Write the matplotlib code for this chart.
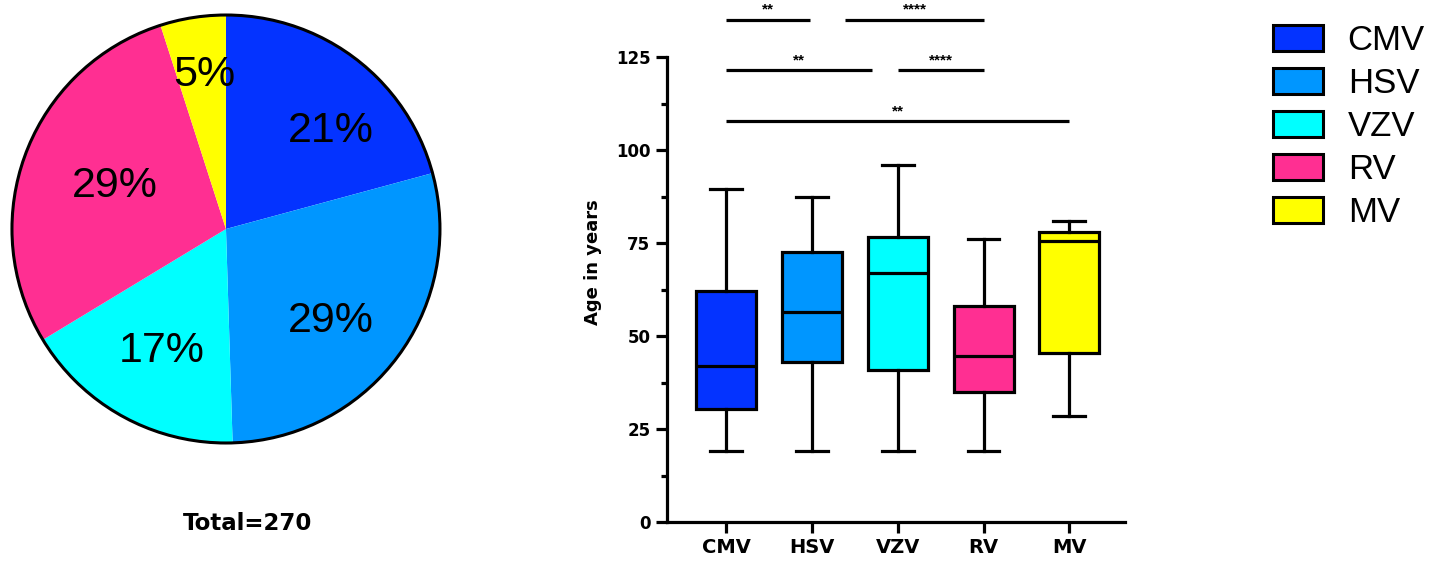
import matplotlib
matplotlib.use("Agg")
import matplotlib.pyplot as plt
from matplotlib.patches import Patch, Circle

plt.rcParams['font.family'] = ['Liberation Sans', 'DejaVu Sans']

# ==============================================================================
# Data

viruses = ['CMV', 'HSV', 'VZV', 'RV', 'MV']
colors = ['#0433FF', '#0096FF', '#00FFFF', '#FF2F92', '#FFFF00']

# pie shares (%)
share_pct = [21, 29, 17, 29, 5]
share_labels = ['21%', '29%', '17%', '29%', '5%']
# label anchor points inside the pie (radius units, placed by hand in the original)
label_xy = [(0.49, 0.46), (0.49, -0.43), (-0.30, -0.57), (-0.52, 0.20), (-0.10, 0.72)]
total_text = 'Total=270'

# box plot summary: min, Q1, median, Q3, max (age in years)
age_min = [19, 19, 19, 19, 28.5]
age_q1 = [30.5, 43, 41, 35, 45.5]
age_med = [42, 56.5, 67, 44.5, 75.5]
age_q3 = [62, 72.5, 76.5, 58, 78]
age_max = [89.5, 87.5, 96, 76, 81]

# significance bars: (x start, x end, height, stars)
sig_start = [0, 1.39, 0, 2, 0]
sig_end = [0.98, 3, 1.7, 3, 4]
sig_y = [135, 135, 121.5, 121.5, 107.8]
sig_text = ['**', '****', '**', '****', '**']

# ==============================================================================

# the axis text in the original is wide, DejaVu bold matches its footprint
AXIS_FONT = 'DejaVu Sans'

fig = plt.figure(figsize=(14.42, 5.63), dpi=100)

# --- pie -----------------------------------------------------------------------
ax_pie = fig.add_axes([-0.0288, 0.1181, 0.3710, 0.9503])
ax_pie.pie(share_pct, colors=colors, startangle=90, counterclock=False,
           wedgeprops=dict(linewidth=0))
ax_pie.add_patch(Circle((0, 0), 1.0, fill=False, edgecolor='black', linewidth=2.2))
for (lx, ly), txt in zip(label_xy, share_labels):
    ax_pie.text(lx, ly, txt, ha='center', va='center', fontsize=31)
ax_pie.set_xlim(-1.25, 1.25)
ax_pie.set_ylim(-1.25, 1.25)
ax_pie.set_aspect('equal')
ax_pie.axis('off')

fig.text(248 / 1442, 1 - 523 / 563, total_text, ha='center', va='center',
         fontsize=16.5, fontweight='bold', family=AXIS_FONT)

# --- box plot --------------------------------------------------------------------
ax = fig.add_axes([0.4626, 0.0728, 0.3176, 0.925])

stats = []
for i, name in enumerate(viruses):
    stats.append(dict(label=name, whislo=age_min[i], q1=age_q1[i], med=age_med[i],
                      q3=age_q3[i], whishi=age_max[i], fliers=[]))

lw = 2.3
bp = ax.bxp(stats, positions=range(len(viruses)), widths=0.7, patch_artist=True,
            showfliers=False,
            boxprops=dict(linewidth=lw, edgecolor='black'),
            medianprops=dict(linewidth=lw, color='black'),
            whiskerprops=dict(linewidth=lw, color='black'),
            capprops=dict(linewidth=lw, color='black'),
            capwidths=0.37)
for box, c in zip(bp['boxes'], colors):
    box.set_facecolor(c)

for x0, x1, y, s in zip(sig_start, sig_end, sig_y, sig_text):
    ax.plot([x0, x1], [y, y], color='black', linewidth=lw, solid_capstyle='butt')
    ax.text((x0 + x1) / 2, y + 0.8, s, ha='center', va='bottom',
            fontsize=11, fontweight='bold')

ax.set_xlim(-0.69, 4.65)
ax.set_ylim(0, 140)
ax.set_yticks([0, 25, 50, 75, 100, 125])
ax.set_yticks([12.5, 37.5, 62.5, 87.5, 112.5], minor=True)
ax.spines['left'].set_bounds(0, 125)
ax.spines['top'].set_visible(False)
ax.spines['right'].set_visible(False)
ax.spines['left'].set_linewidth(lw)
ax.spines['bottom'].set_linewidth(lw)
ax.tick_params(axis='both', which='major', length=8, width=lw, direction='out')
ax.tick_params(axis='y', which='major', pad=4)
ax.tick_params(axis='y', which='minor', length=4, width=lw)
ax.set_xticks(range(len(viruses)))
ax.set_xticklabels(viruses, fontsize=14, fontweight='bold', family=AXIS_FONT)
for t in ax.get_yticklabels():
    t.set_fontsize(12)
    t.set_fontweight('bold')
    t.set_family(AXIS_FONT)
ax.set_ylabel('Age in years', fontsize=13, fontweight='bold', family=AXIS_FONT,
              labelpad=10)

# --- legend --------------------------------------------------------------------
handles = [Patch(facecolor=c, edgecolor='black', linewidth=2.2) for c in colors]
fig.legend(handles, viruses, loc='upper left', bbox_to_anchor=(1273 / 1442, 1 - 24 / 563),
           frameon=False, fontsize=25, borderpad=0, borderaxespad=0, handlelength=1.45,
           handleheight=0.8, handletextpad=0.7, labelspacing=0.29)

fig.savefig('out.png', dpi=100)
